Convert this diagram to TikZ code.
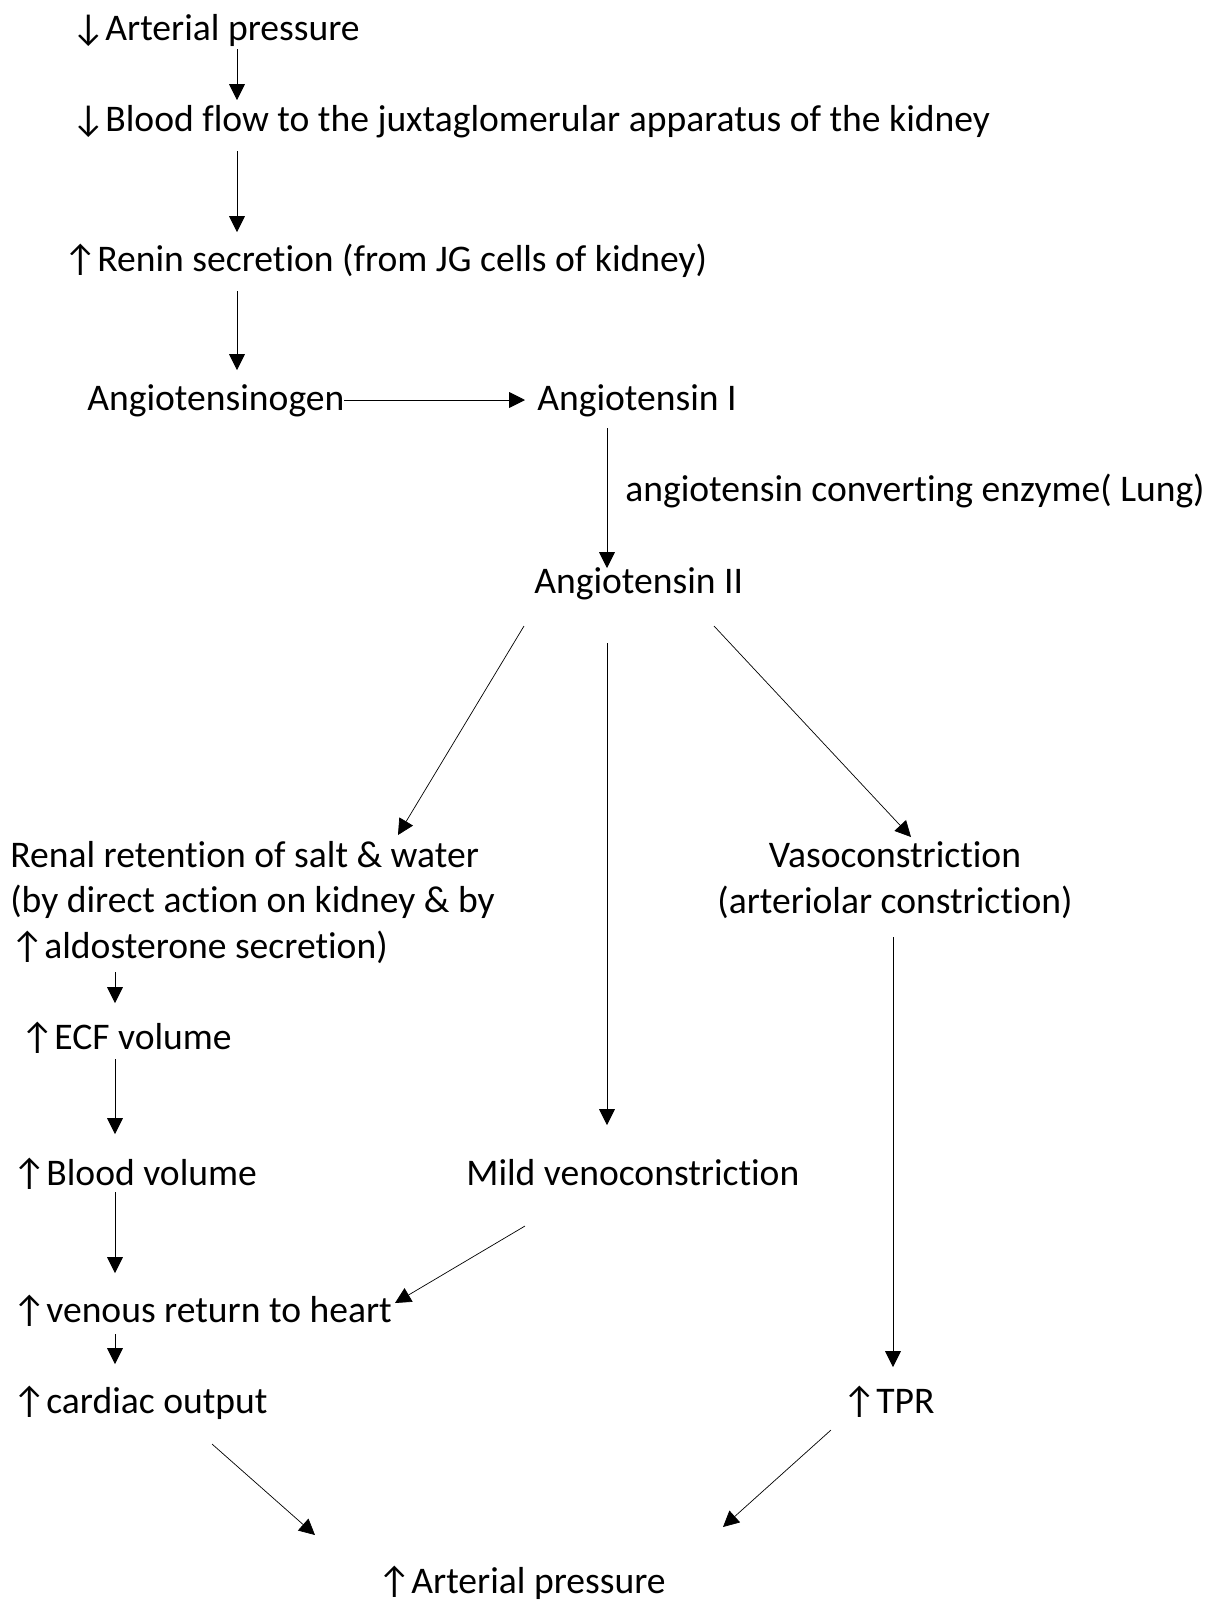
\documentclass[tikz,border=0pt]{standalone}
\usepackage{fontspec}
\setmainfont{Carlito}[Ligatures=NoCommon]
\usetikzlibrary{arrows.meta}
\tikzset{
    -{Triangle[length=9pt,width=9pt]},line width=1.7pt,
    txt/.style ={anchor=base west, inner sep=0pt},
    el/.style = {inner sep=0pt, align=left, anchor=base west}
}

\begin{document}
\begin{tikzpicture}[x=0.02cm,y=-0.02cm,font=\fontsize{21.4}{25.8}\selectfont]
    \useasboundingbox (0,0) rectangle (1211,1600);
    %%Nodes
    \node[txt] (ap0) at (71,40) {↓Arterial pressure};
    \node[txt] (bf) at (71,131) {↓Blood flow to the juxtaglomerular apparatus of the kidney};
    \node[txt] (ren) at (63,271) {↑Renin secretion (from JG cells of kidney)};
    \node[txt] (agen) at (87,410) {Angiotensinogen};
    \node[txt] (ang1) at (537,410) {Angiotensin I};
    \node[txt] (ace) at (625,501) {angiotensin converting enzyme( Lung)};
    \node[txt] (ang2) at (534,593) {Angiotensin II};

    % left column
    \node[el] (renal) at (10,958) {Renal retention of salt \& water\\(by direct action on kidney \& by\\↑aldosterone secretion)};
    \node[txt] (ecf) at (20,1049) {↑ECF volume};
    \node[txt] (bv) at (12,1185) {↑Blood volume};
    \node[txt] (vr) at (12,1322) {↑venous return to heart};
    \node[txt] (co) at (12,1413) {↑cardiac output};

    % middle and right
    \node[txt] (mild) at (466,1185) {Mild venoconstriction};
    \node[inner sep=0pt, align=center, anchor=base] (vaso) at (895,913) {Vasoconstriction\\(arteriolar constriction)};
    \node[txt] (tpr) at (842,1413) {↑TPR};
    \node[txt] (ap1) at (377,1593) {↑Arterial pressure};

    % Directed edge
    \path ([shift={(166,9)}]ap0.base west) edge ([shift={(166,-31)}]bf.base west);
    \path ([shift={(166,20)}]bf.base west) edge ([shift={(174,-39)}]ren.base west);
    \path ([shift={(174,20)}]ren.base west) edge ([shift={(150,-40)}]agen.base west);
    \path ([shift={(257,-10)}]agen.base west) edge ([shift={(-12,-10)}]ang1.base west);
    \path ([shift={(70,18)}]ang1.base west) edge ([shift={(73,-25)}]ang2.base west);

    \path ([shift={(-10,33)}]ang2.base west) edge ([shift={(388,-123)}]renal.base west);
    \path ([shift={(73,50)}]ang2.base west) edge ([shift={(141,-60)}]mild.base west);
    \path ([shift={(180,33)}]ang2.base west) edge ([shift={(16,-76)}]vaso.base);

    \path ([shift={(105,14)}]renal.base west) edge ([shift={(95,-46)}]ecf.base west);
    \path ([shift={(95,10)}]ecf.base west) edge ([shift={(103,-51)}]bv.base west);
    \path ([shift={(103,7)}]bv.base west) edge ([shift={(103,-49)}]vr.base west);
    \path ([shift={(59,41)}]mild.base west) edge ([shift={(383,-19)}]vr.base west);
    \path ([shift={(103,12)}]vr.base west) edge ([shift={(103,-49)}]co.base west);

    \path ([shift={(-2,24)}]vaso.base) edge ([shift={(51,-46)}]tpr.base west);
    \path ([shift={(200,31)}]co.base west) edge ([shift={(-62,-58)}]ap1.base west);
    \path ([shift={(-11,17)}]tpr.base west) edge ([shift={(346,-66)}]ap1.base west);
\end{tikzpicture}
\end{document}
